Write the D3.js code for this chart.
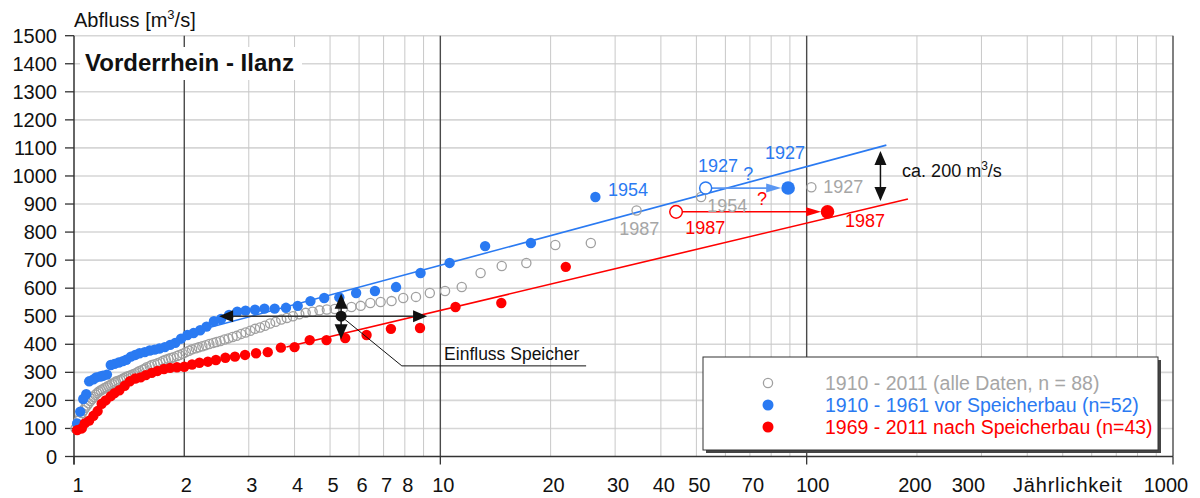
<!DOCTYPE html>
<html><head><meta charset="utf-8">
<script src="https://cdn.jsdelivr.net/npm/d3@7"></script>
<style>body{margin:0;background:#fff;} svg{display:block;font-family:"Liberation Sans",Arial,sans-serif;}</style>
</head><body><svg id="c" width="1200" height="498"></svg>
<script>
// ---------- data (return period T [years], discharge Q [m3/s]) ----------
const grayT = [103,51.5,34.33,25.75,20.6,17.17,14.71,12.88,11.44,10.3,9.36,8.58,7.92,7.36,6.87,6.44,6.06,5.72,5.42,5.15,
  4.90,4.68,4.48,4.29,4.12,3.96,3.81,3.68,3.55,3.43,3.32,3.22,3.12,3.03,2.94,2.86,2.78,2.71,2.64,2.575,
  2.51,2.45,2.40,2.34,2.29,2.24,2.19,2.15,2.10,2.06,2.02,1.98,1.94,1.91,1.87,1.84,1.81,1.78,1.75,1.72,
  1.69,1.66,1.63,1.61,1.58,1.56,1.54,1.51,1.49,1.47,1.45,1.43,1.41,1.39,1.37,1.355,1.34,1.32,1.30,1.29,
  1.27,1.256,1.24,1.226,1.212,1.198,1.184,1.17,1.157,1.144,1.132,1.12,1.108,1.096,1.084,1.073,1.062,1.051,1.04,1.03,
  1.02,1.01];
const grayQ = [960,925,877,761,754,690,679,654,604,590,583,569,565,554,551,547,537,533,528,526,
  524,521,516,512,507,500,494,488,480,474,466,460,455,448,442,437,430,426,421,417,
  412,408,405,401,397,393,389,386,382,377,372,366,362,358,354,351,348,345,341,336,
  332,329,326,322,318,313,309,305,300,296,293,290,287,284,280,276,273,270,267,263,
  259,255,251,247,244,240,236,232,226,220,212,205,198,190,182,174,165,155,142,128,
  115,100];
const blueT = [26.5,17.67,13.25,10.6,8.83,7.57,6.63,5.89,5.3,4.82,4.42,4.08,3.79,3.53,3.31,3.12,2.94,2.79,2.65,2.52,
  2.41,2.30,2.21,2.12,2.04,1.96,1.89,1.83,1.77,1.71,1.66,1.61,1.56,1.51,1.47,1.43,1.39,1.36,1.325,1.29,
  1.26,1.23,1.20,1.18,1.15,1.13,1.10,1.08,1.06,1.04,1.02];
const blueQ = [925,761,750,690,654,604,590,583,567,565,554,537,530,527,527,523,520,516,505,490,
  482,463,450,440,433,420,405,398,390,385,381,378,372,368,362,356,345,340,335,330,
  326,292,288,285,282,275,268,222,205,160,118];
const redT = [22,14.67,11,8.8,7.33,6.29,5.5,4.89,4.4,4.0,3.67,3.38,3.14,2.93,2.75,2.59,2.44,2.32,2.2,2.10,
  2.0,1.91,1.83,1.76,1.69,1.63,1.57,1.52,1.47,1.42,1.375,1.33,1.29,1.26,1.22,1.19,1.16,1.13,1.10,1.07,
  1.05,1.02];
const redQ = [676,547,533,458,455,433,422,415,415,390,388,372,368,362,356,352,344,338,334,328,
  320,318,316,312,305,298,290,282,278,268,252,236,226,215,200,188,162,145,128,118,
  100,94];
// regression lines (endpoints)
const blueFitT = [2.3, 165];
const blueFitQ = [457, 1110];
const redFitT = [3.8, 189];
const redFitQ = [390, 918];
// moved extreme events
const blue1927T = [53, 89];   // original position, shifted position
const blue1927Q = [957, 957];
const red1987T = [44, 114];
const red1987Q = [872, 872];
// axis ticks
const yTicks = [0,100,200,300,400,500,600,700,800,900,1000,1100,1200,1300,1400,1500];
const xTickLabels = [1,2,3,4,5,6,7,8,10,20,30,40,50,70,100,200,300,1000];
const xMinorGrid = [3,4,5,6,7,8,9,20,30,40,50,60,70,80,90,200,300,400,500,600,700,800,900];
const xMajorGrid = [2,10,100,1000];
const xMainTicks = [1,10,100,1000];
const legendLabels = ["1910 - 2011 (alle Daten, n = 88)","1910 - 1961 vor Speicherbau (n=52)","1969 - 2011 nach Speicherbau (n=43)"];
const xLabelNudge = {1:4,2:2,100:6,200:-2,300:-13,1000:-7};

// ---------- drawing ----------
const BLUE = "#2a7af2", RED = "#ff0000", GRAY = "#a0a0a0", GRAYTXT = "#a6a6a6";
const svg = d3.select("#c");
const x = d3.scaleLog().domain([1,1000]).range([74,1173]);
const y = d3.scaleLinear().domain([0,1500]).range([456.5,35.7]);
const X0 = x(1), X1 = x(1000), Y0 = y(0), Y1 = y(1500);

// grid
const g = svg.append("g");
g.selectAll(".hg").data(yTicks.filter(d=>d>0)).join("line")
  .attr("x1",X0).attr("x2",X1).attr("y1",d=>y(d)).attr("y2",d=>y(d))
  .attr("stroke","#d6d6d6").attr("stroke-width",1.6);
g.selectAll(".vg").data(xMinorGrid).join("line")
  .attr("x1",d=>x(d)).attr("x2",d=>x(d)).attr("y1",Y1).attr("y2",Y0)
  .attr("stroke","#c8c8c8").attr("stroke-width",1);
g.selectAll(".vm").data(xMajorGrid).join("line")
  .attr("x1",d=>x(d)).attr("x2",d=>x(d)).attr("y1",Y1).attr("y2",Y0)
  .attr("stroke","#4a4a4a").attr("stroke-width",1.4);

// axes
svg.append("line").attr("x1",X0).attr("x2",X1).attr("y1",Y0).attr("y2",Y0).attr("stroke","#333").attr("stroke-width",1.5);
svg.append("line").attr("x1",X0).attr("x2",X0).attr("y1",Y1).attr("y2",Y0+8).attr("stroke","#333").attr("stroke-width",1.5);
svg.selectAll(".yt").data(yTicks).join("line")
  .attr("x1",X0-9).attr("x2",X0).attr("y1",d=>y(d)).attr("y2",d=>y(d)).attr("stroke","#333").attr("stroke-width",1.3);
svg.selectAll(".xt").data(xMainTicks).join("line")
  .attr("x1",d=>x(d)).attr("x2",d=>x(d)).attr("y1",Y0).attr("y2",Y0+8).attr("stroke","#333").attr("stroke-width",1.3);
svg.selectAll(".yl").data(yTicks).join("text")
  .attr("x",X0-17).attr("y",d=>y(d)+7).attr("text-anchor","end")
  .attr("font-size",20).attr("fill","#111").text(d=>d);
svg.selectAll(".xl").data(xTickLabels).join("text")
  .attr("x",d=>x(d)+(xLabelNudge[d]!==undefined?xLabelNudge[d]:3)).attr("y",492).attr("text-anchor","middle")
  .attr("font-size",20).attr("fill","#111").text(d=>d);
svg.append("text").attr("x",x(1000)-160).attr("y",492).attr("text-anchor","start")
  .attr("font-size",20).attr("letter-spacing",0.8).attr("fill","#111").text("Jährlichkeit");
const yt = svg.append("text").attr("x",X0).attr("y",27).attr("font-size",20).attr("fill","#111");
yt.append("tspan").text("Abfluss [m");
yt.append("tspan").attr("dy",-8).attr("font-size",13).text("3");
yt.append("tspan").attr("dy",8).text("/s]");

// title
svg.append("rect").attr("x",80).attr("y",47).attr("width",222).attr("height",33).attr("fill","#fff");
svg.append("text").attr("x",85).attr("y",71).attr("font-size",24).attr("font-weight","bold").attr("fill","#111").text("Vorderrhein - Ilanz");

// regression lines
const line = d3.line().x(d=>x(d[0])).y(d=>y(d[1]));
svg.append("path").attr("d",line(d3.zip(blueFitT,blueFitQ))).attr("stroke",BLUE).attr("stroke-width",1.6).attr("fill","none");
svg.append("path").attr("d",line(d3.zip(redFitT,redFitQ))).attr("stroke",RED).attr("stroke-width",1.6).attr("fill","none");

// points
svg.append("g").selectAll("circle").data(d3.zip(grayT,grayQ)).join("circle")
  .attr("cx",d=>x(d[0])).attr("cy",d=>y(d[1])).attr("r",4.6)
  .attr("fill","none").attr("stroke",GRAY).attr("stroke-width",1.3);
svg.append("g").selectAll("circle").data(d3.zip(blueT,blueQ)).join("circle")
  .attr("cx",d=>x(d[0])).attr("cy",d=>y(d[1])).attr("r",5.2).attr("fill",BLUE);
svg.append("g").selectAll("circle").data(d3.zip(redT,redQ)).join("circle")
  .attr("cx",d=>x(d[0])).attr("cy",d=>y(d[1])).attr("r",5.2).attr("fill",RED);

// arrow helper
function arrowHead(tx,ty,dx,dy,len,hw,color){
  const n = Math.hypot(dx,dy), ux=dx/n, uy=dy/n;
  const bx = tx-ux*len, by = ty-uy*len;
  svg.append("path").attr("d",`M${tx},${ty}L${bx-uy*hw},${by+ux*hw}L${bx+uy*hw},${by-ux*hw}Z`).attr("fill",color);
}
function hArrow(t0,t1,q,color,w){
  const xa=x(t0), xb=x(t1), yy=y(q);
  svg.append("line").attr("x1",xa).attr("x2",xb-8).attr("y1",yy).attr("y2",yy).attr("stroke",color).attr("stroke-width",w);
  arrowHead(xb,yy,1,0,15,4.5,color);
}
// moved events
hArrow(54.8,85.2,blue1927Q[0],"#5b97f2",1.8);
hArrow(45.7,109.5,red1987Q[0],RED,1.5);
svg.append("circle").attr("cx",x(blue1927T[0])).attr("cy",y(blue1927Q[0])).attr("r",6).attr("fill","#fff").attr("stroke",BLUE).attr("stroke-width",1.5);
svg.append("circle").attr("cx",x(blue1927T[1])).attr("cy",y(blue1927Q[1])).attr("r",6.8).attr("fill",BLUE);
svg.append("circle").attr("cx",x(red1987T[0])).attr("cy",y(red1987Q[0])).attr("r",6.3).attr("fill","#fff").attr("stroke",RED).attr("stroke-width",1.5);
svg.append("circle").attr("cx",x(red1987T[1])).attr("cy",y(red1987Q[1])).attr("r",6.8).attr("fill",RED);

// labels
const labels = [
  {t:28.7,q:928,s:"1954",c:BLUE},
  {t:50.5,q:1015,s:"1927",c:BLUE},
  {t:77.0,q:1060,s:"1927",c:BLUE},
  {t:67.1,q:985,s:"?",c:BLUE},
  {t:110.9,q:939,s:"1927",c:GRAYTXT},
  {t:53.5,q:872,s:"1954",c:GRAYTXT},
  {t:30.8,q:790,s:"1987",c:GRAYTXT},
  {t:46.6,q:793,s:"1987",c:RED},
  {t:73.2,q:896,s:"?",c:RED},
  {t:127.3,q:818,s:"1987",c:RED}
];
svg.selectAll(".ann").data(labels).join("text")
  .attr("x",d=>x(d.t)).attr("y",d=>y(d.q)).attr("font-size",18).attr("fill",d=>d.c).text(d=>d.s);

// ca. 200 m3/s
const vx = x(159);
svg.append("line").attr("x1",vx).attr("x2",vx).attr("y1",y(1089)+12).attr("y2",y(911)-12).attr("stroke","#111").attr("stroke-width",1.5);
arrowHead(vx,y(1089),0,-1,14,6,"#111");
arrowHead(vx,y(911),0,1,14,6,"#111");
const ca = svg.append("text").attr("x",x(182.2)).attr("y",y(997)).attr("font-size",18).attr("fill","#111");
ca.append("tspan").text("ca. 200 m");
ca.append("tspan").attr("dy",-7).attr("font-size",12).text("3");
ca.append("tspan").attr("dy",7).text("/s");

// Einfluss Speicher
const ex = x(5.36), ey = y(500);
svg.append("line").attr("x1",x(2.49)+10).attr("x2",x(9.2)-10).attr("y1",ey).attr("y2",ey).attr("stroke","#333").attr("stroke-width",1.5);
arrowHead(x(2.49),ey,-1,0,14,6,"#111");
arrowHead(x(9.2),ey,1,0,14,6,"#111");
svg.append("line").attr("x1",ex).attr("x2",ex).attr("y1",y(580)+10).attr("y2",y(418)-10).attr("stroke","#111").attr("stroke-width",1.5);
arrowHead(ex,y(580),0,-1,15,6.5,"#111");
arrowHead(ex,y(418),0,1,15,6.5,"#111");
svg.append("circle").attr("cx",ex).attr("cy",ey).attr("r",5.5).attr("fill","#111");
svg.append("path").attr("d",line([[5.45,492],[7.85,323],[25.0,323]])).attr("stroke","#111").attr("stroke-width",1).attr("fill","none");
svg.append("text").attr("x",x(10.24)).attr("y",y(344)).attr("font-size",17.5).attr("fill","#111").text("Einfluss Speicher");

// legend
const lg = svg.append("g");
lg.append("rect").attr("x",706).attr("y",360).attr("width",455).attr("height",93).attr("fill","#444");
lg.append("rect").attr("x",703).attr("y",357).attr("width",455).attr("height",93).attr("fill","#fff").attr("stroke","#333").attr("stroke-width",1);
const lc = [GRAYTXT,BLUE,RED];
legendLabels.forEach((s,i)=>{
  const cy = 383+i*22;
  if(i===0) lg.append("circle").attr("cx",768).attr("cy",cy).attr("r",4.6).attr("fill","none").attr("stroke",GRAY).attr("stroke-width",1.3);
  else lg.append("circle").attr("cx",768).attr("cy",cy).attr("r",5.5).attr("fill",lc[i]);
  lg.append("text").attr("x",825).attr("y",cy+7).attr("font-size",19.5).attr("fill",lc[i]).text(s);
});
</script></body></html>
